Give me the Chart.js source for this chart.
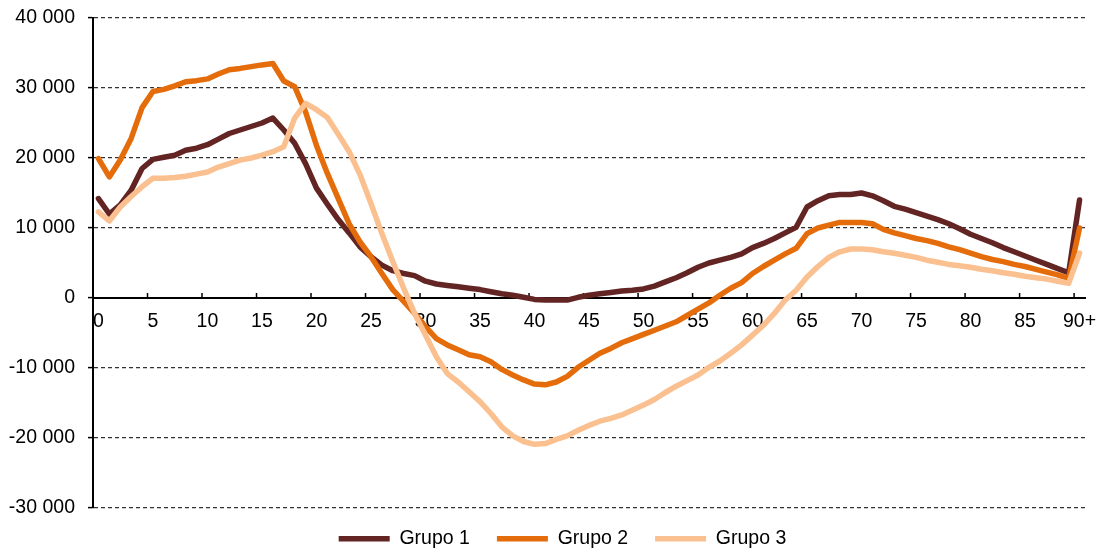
<!DOCTYPE html>
<html>
<head>
<meta charset="utf-8">
<script src="https://cdn.jsdelivr.net/npm/chart.js@4/dist/chart.umd.min.js"></script>
<style>
  html, body { margin: 0; padding: 0; background: #fff; }
  #wrap { width: 1098px; height: 552px; position: relative; }
</style>
</head>
<body>
<div id="wrap"><canvas id="c"></canvas></div>
<script>
const categories = [
  '0','1','2','3','4','5','6','7','8','9',
  '10','11','12','13','14','15','16','17','18','19',
  '20','21','22','23','24','25','26','27','28','29',
  '30','31','32','33','34','35','36','37','38','39',
  '40','41','42','43','44','45','46','47','48','49',
  '50','51','52','53','54','55','56','57','58','59',
  '60','61','62','63','64','65','66','67','68','69',
  '70','71','72','73','74','75','76','77','78','79',
  '80','81','82','83','84','85','86','87','88','89',
  '90+'
];

const grupo1 = [
  14200, 12000, 13300, 15400, 18500, 19800, 20100, 20400, 21100, 21400,
  21900, 22700, 23500, 24000, 24500, 25000, 25700, 24000, 22100, 19200,
  15700, 13400, 11200, 9300, 7300, 5900, 4700, 3900, 3500, 3200,
  2400, 2000, 1800, 1600, 1400, 1200, 900, 600, 400, 100,
  -200, -300, -300, -300, 100, 400, 600, 800, 1000, 1100,
  1300, 1700, 2300, 2900, 3600, 4400, 5000, 5400, 5800, 6300,
  7200, 7800, 8500, 9300, 10100, 13000, 13900, 14600, 14800, 14800,
  15000, 14600, 13900, 13100, 12700, 12200, 11700, 11200, 10600, 9900,
  9100, 8500, 7900, 7200, 6600, 6000, 5400, 4800, 4200, 3600,
  14000
];

const grupo2 = [
  19900, 17300, 19700, 22800, 27200, 29500, 29800, 30300, 30900, 31050,
  31300, 32000, 32600, 32800, 33050, 33300, 33500, 31000, 30200, 26600,
  21800, 17800, 14200, 10600, 8000, 5900, 3500, 1200, -500, -2200,
  -4100, -5800, -6700, -7400, -8100, -8400, -9100, -10200, -11000, -11700,
  -12300, -12400, -12000, -11200, -9900, -8900, -7900, -7200, -6400, -5800,
  -5200, -4600, -4000, -3400, -2500, -1600, -700, 400, 1400, 2200,
  3500, 4500, 5400, 6300, 7100, 9200, 10000, 10400, 10800, 10800,
  10800, 10600, 9800, 9300, 8900, 8500, 8200, 7800, 7300, 6900,
  6400, 5900, 5500, 5200, 4800, 4500, 4100, 3700, 3300, 2800,
  10000
];

const grupo3 = [
  12300, 11000, 13000, 14500, 15900, 17100, 17100, 17200, 17400, 17700,
  18000, 18700, 19200, 19700, 20000, 20400, 20900, 21600, 25700, 27800,
  26900, 25800, 23400, 20900, 17600, 13500, 9200, 5200, 1400, -2200,
  -5300, -8400, -10800, -12000, -13400, -14800, -16500, -18400, -19700, -20500,
  -20900, -20800, -20200, -19700, -18900, -18200, -17600, -17200, -16700, -16000,
  -15300, -14500, -13500, -12600, -11800, -11000, -9900, -9000, -7900, -6700,
  -5300, -3900, -2200, -300, 1100, 3000, 4500, 5800, 6600, 7000,
  7000, 6900, 6600, 6400, 6100, 5800, 5400, 5100, 4800, 4600,
  4400, 4100, 3900, 3600, 3400, 3100, 2900, 2700, 2400, 2100,
  6400
];

const seriesNames = ['Grupo 1', 'Grupo 2', 'Grupo 3'];
const seriesColors = ['#632523', '#E46C0A', '#FAC090'];
const yTickValues = [-30000, -20000, -10000, 0, 10000, 20000, 30000, 40000];

const FONT = { family: "'Liberation Sans', Arial, sans-serif", size: 19.5 };

function fmt(v) {
  const s = Math.abs(v).toString().replace(/\B(?=(\d{3})+(?!\d))/g, ' ');
  return (v < 0 ? '-' : '') + s;
}

// Upward tick marks on the x axis at category boundaries every 5 categories
const xTickMarks = {
  id: 'xTickMarks',
  beforeDatasetsDraw(chart) {
    const xs = chart.scales.x, ys = chart.scales.y;
    const y0 = ys.getPixelForValue(0);
    const ctx = chart.ctx;
    ctx.save();
    ctx.strokeStyle = '#000';
    ctx.lineWidth = 1.5;
    ctx.beginPath();
    for (let i = 5; i < categories.length; i += 5) {
      const x = (xs.getPixelForTick(i) + xs.getPixelForTick(i - 1)) / 2;
      ctx.moveTo(x, y0 - 5);
      ctx.lineTo(x, y0);
    }
    ctx.stroke();
    ctx.restore();
  }
};

// Shift the legend to match the reference placement (and avoid clipping)
const legendShift = {
  id: 'legendShift',
  afterInit(chart) {
    const lg = chart.legend;
    if (!lg) return;
    const orig = lg.draw.bind(lg);
    lg.draw = function (a) {
      const b = this.bottom, h = this.height;
      this.bottom = b + 30; this.height = h + 30;
      this.ctx.save();
      this.ctx.translate(20, -6);
      orig(a);
      this.ctx.restore();
      this.bottom = b; this.height = h;
    };
  }
};

const datasets = [grupo1, grupo2, grupo3].map((d, i) => ({
  label: seriesNames[i],
  data: d,
  borderColor: seriesColors[i],
  backgroundColor: seriesColors[i],
  borderWidth: 5.5,
  pointRadius: 0,
  pointHoverRadius: 0,
  tension: 0,
  borderCapStyle: 'round',
  borderJoinStyle: 'round',
  fill: false,
  order: 3 - i
}));

new Chart(document.getElementById('c'), {
  type: 'line',
  data: { labels: categories, datasets },
  plugins: [xTickMarks, legendShift],
  options: {
    responsive: true,
    maintainAspectRatio: false,
    animation: false,
    layout: { padding: { top: 18, right: 13, left: 0, bottom: 0 } },
    plugins: {
      tooltip: { enabled: false },
      legend: {
        position: 'bottom',
        maxHeight: 44,
        labels: {
          usePointStyle: true,
          pointStyle: 'line',
          pointStyleWidth: 51,
          padding: 27,
          color: '#000',
          font: FONT,
          sort: (a, b) => a.datasetIndex - b.datasetIndex
        }
      }
    },
    scales: {
      x: {
        type: 'category',
        offset: true,
        position: { y: 0 },
        afterFit: (s) => { s.paddingLeft = 0; s.paddingRight = 0; s.paddingTop = 0; s.paddingBottom = 0; },
        grid: { display: false, drawTicks: false },
        border: { display: true, color: '#000', width: 2 },
        ticks: {
          autoSkip: false,
          maxRotation: 0,
          minRotation: 0,
          padding: 12,
          color: '#000',
          font: FONT,
          callback: (v, i) => (i % 5 === 0 ? categories[i] : '')
        }
      },
      y: {
        min: -30000,
        max: 40000,
        afterBuildTicks: (s) => { s.ticks = yTickValues.map(v => ({ value: v })); },
        afterFit: (s) => { s.width = 93; s.paddingTop = 0; s.paddingBottom = 0; },
        grid: {
          color: '#333333',
          lineWidth: 1.2,
          drawTicks: true,
          tickLength: 5,
          tickColor: '#000',
          tickWidth: 1.5
        },
        border: { display: true, color: '#000', width: 2, dash: [4, 3] },
        ticks: {
          padding: 13,
          color: '#000',
          font: FONT,
          callback: (v) => fmt(v)
        }
      }
    }
  }
});
</script>
</body>
</html>
